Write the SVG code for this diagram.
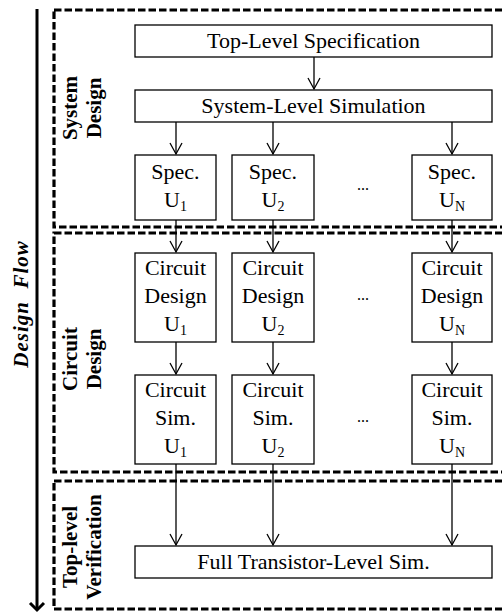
<svg xmlns="http://www.w3.org/2000/svg" width="502" height="614" viewBox="0 0 502 614" font-family="Liberation Serif, Times New Roman, serif">
<style>
.box{fill:#fff;stroke:#000;stroke-width:1.3}
.sec{fill:none;stroke:#000;stroke-width:3.2;stroke-dasharray:7.5 3}
.t{font-size:22px;text-anchor:middle;fill:#000}
.sub{font-size:14px}
.lbl{font-size:21px;font-weight:bold;text-anchor:middle;fill:#000}
.conn line{stroke:#000;stroke-width:1.3}
.dots{font-size:16px;text-anchor:middle;fill:#000}
</style>
<defs>
<marker id="ah2" markerUnits="userSpaceOnUse" viewBox="-14 -8 16 16" refX="0" refY="0" markerWidth="16" markerHeight="16" orient="auto">
<path d="M-11,-6 L0,0 L-11,6" fill="none" stroke="#000" stroke-width="1.3"/>
</marker>
</defs>

<g id="flow-arrow">
<line x1="37" y1="9" x2="37" y2="610" stroke="#000" stroke-width="3"/>
<path d="M30,603 L37,610 L44,603" fill="none" stroke="#000" stroke-width="3"/>
<text class="lbl" font-style="italic" font-size="22" letter-spacing="1" transform="translate(28,304) rotate(-90)" xml:space="preserve">Design  Flow</text>
</g>

<g id="sec-system">
<rect class="sec" x="54" y="10" width="470" height="217"/>
<text class="lbl" transform="translate(77,108) rotate(-90)">System</text>
<text class="lbl" transform="translate(101,108) rotate(-90)">Design</text>
</g>
<g id="sec-circuit">
<rect class="sec" x="54" y="233" width="470" height="239"/>
<text class="lbl" transform="translate(77,359) rotate(-90)">Circuit</text>
<text class="lbl" transform="translate(101,359) rotate(-90)">Design</text>
</g>
<g id="sec-top">
<rect class="sec" x="54" y="481" width="470" height="128"/>
<text class="lbl" transform="translate(77,547) rotate(-90)">Top-level</text>
<text class="lbl" transform="translate(101,547) rotate(-90)">Verification</text>
</g>

<g class="conn" id="connectors">
<line x1="314" y1="57" x2="314" y2="89" marker-end="url(#ah2)"/>
<line x1="176" y1="122" x2="176" y2="154" marker-end="url(#ah2)"/>
<line x1="273" y1="122" x2="273" y2="154" marker-end="url(#ah2)"/>
<line x1="452" y1="122" x2="452" y2="154" marker-end="url(#ah2)"/>
<line x1="176" y1="220" x2="176" y2="252" marker-end="url(#ah2)"/>
<line x1="273" y1="220" x2="273" y2="252" marker-end="url(#ah2)"/>
<line x1="452" y1="220" x2="452" y2="252" marker-end="url(#ah2)"/>
<line x1="176" y1="342" x2="176" y2="374" marker-end="url(#ah2)"/>
<line x1="273" y1="342" x2="273" y2="374" marker-end="url(#ah2)"/>
<line x1="452" y1="342" x2="452" y2="374" marker-end="url(#ah2)"/>
<line x1="176" y1="464" x2="176" y2="545" marker-end="url(#ah2)"/>
<line x1="273" y1="464" x2="273" y2="545" marker-end="url(#ah2)"/>
<line x1="452" y1="464" x2="452" y2="545" marker-end="url(#ah2)"/>
</g>

<g id="top-spec">
<rect class="box" x="135" y="25" width="357" height="32"/>
<text class="t" x="313.5" y="48">Top-Level Specification</text>
</g>
<g id="sys-sim">
<rect class="box" x="135" y="90" width="357" height="32"/>
<text class="t" x="313.5" y="113">System-Level Simulation</text>
</g>

<g id="spec-u1">
<rect class="box" x="135" y="155" width="81" height="65"/>
<text class="t" x="175.5" y="179">Spec.</text>
<text class="t" x="175.5" y="207">U<tspan class="sub" dy="4">1</tspan></text>
</g>
<g id="spec-u2">
<rect class="box" x="232" y="155" width="82" height="65"/>
<text class="t" x="273" y="179">Spec.</text>
<text class="t" x="273" y="207">U<tspan class="sub" dy="4">2</tspan></text>
</g>
<g id="spec-un">
<rect class="box" x="412" y="155" width="80" height="65"/>
<text class="t" x="452" y="179">Spec.</text>
<text class="t" x="452" y="207">U<tspan class="sub" dy="4">N</tspan></text>
</g>
<text class="dots" x="363" y="190">...</text>

<g id="cd-u1">
<rect class="box" x="135" y="253" width="81" height="89"/>
<text class="t" x="175.5" y="275">Circuit</text>
<text class="t" x="175.5" y="303">Design</text>
<text class="t" x="175.5" y="331">U<tspan class="sub" dy="4">1</tspan></text>
</g>
<g id="cd-u2">
<rect class="box" x="232" y="253" width="82" height="89"/>
<text class="t" x="273" y="275">Circuit</text>
<text class="t" x="273" y="303">Design</text>
<text class="t" x="273" y="331">U<tspan class="sub" dy="4">2</tspan></text>
</g>
<g id="cd-un">
<rect class="box" x="412" y="253" width="80" height="89"/>
<text class="t" x="452" y="275">Circuit</text>
<text class="t" x="452" y="303">Design</text>
<text class="t" x="452" y="331">U<tspan class="sub" dy="4">N</tspan></text>
</g>
<text class="dots" x="363" y="300">...</text>

<g id="cs-u1">
<rect class="box" x="135" y="375" width="81" height="89"/>
<text class="t" x="175.5" y="397">Circuit</text>
<text class="t" x="175.5" y="425">Sim.</text>
<text class="t" x="175.5" y="453">U<tspan class="sub" dy="4">1</tspan></text>
</g>
<g id="cs-u2">
<rect class="box" x="232" y="375" width="82" height="89"/>
<text class="t" x="273" y="397">Circuit</text>
<text class="t" x="273" y="425">Sim.</text>
<text class="t" x="273" y="453">U<tspan class="sub" dy="4">2</tspan></text>
</g>
<g id="cs-un">
<rect class="box" x="412" y="375" width="80" height="89"/>
<text class="t" x="452" y="397">Circuit</text>
<text class="t" x="452" y="425">Sim.</text>
<text class="t" x="452" y="453">U<tspan class="sub" dy="4">N</tspan></text>
</g>
<text class="dots" x="363" y="422">...</text>

<g id="full-sim">
<rect class="box" x="135" y="546" width="357" height="32"/>
<text class="t" x="313.5" y="569">Full Transistor-Level Sim.</text>
</g>
</svg>
